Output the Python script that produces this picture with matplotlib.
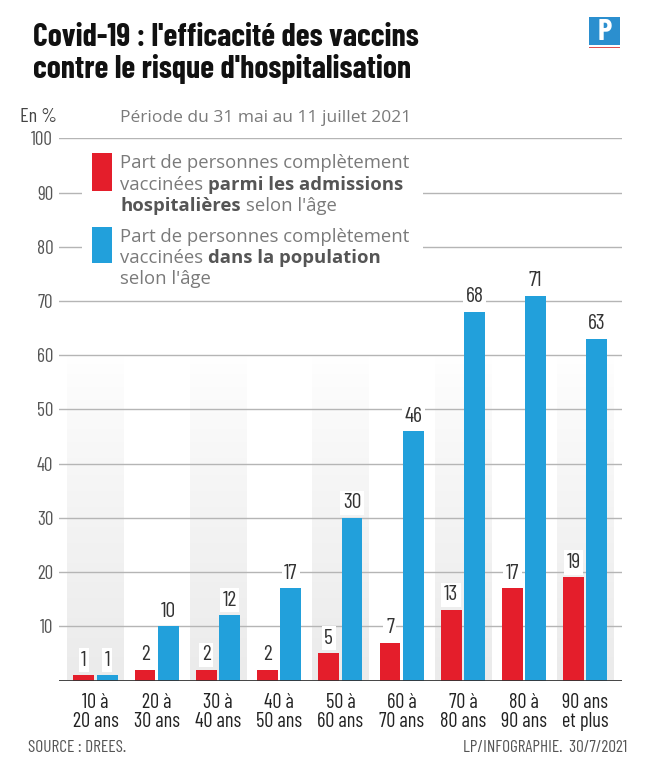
import os
import numpy as np
import matplotlib
matplotlib.use("Agg")
import matplotlib.pyplot as plt
from matplotlib import font_manager
from matplotlib.font_manager import FontProperties
from matplotlib.colors import LinearSegmentedColormap
from matplotlib.patches import Rectangle

# Covid-19 : part des vaccinés, hospitalisations vs population (DREES)
groups = ["10 à\n20 ans", "20 à\n30 ans", "30 à\n40 ans", "40 à\n50 ans", "50 à\n60 ans",
          "60 à\n70 ans", "70 à\n80 ans", "80 à\n90 ans", "90 ans\net plus"]
hospital = [1, 2, 2, 2, 5, 7, 13, 17, 19]
population = [1, 10, 12, 17, 30, 46, 68, 71, 63]
yticks = [10, 20, 30, 40, 50, 60, 70, 80, 90, 100]

red = "#e41e2b"
blue = "#22a0db"

files = {os.path.basename(f.fname): f.fname for f in font_manager.fontManager.ttflist}


def font(*names):
    for n in names:
        if n in files:
            return FontProperties(fname=files[n])
    return FontProperties(family="DejaVu Sans")


nar = font("BarlowCondensed-Regular.ttf", "DejaVuSansCondensed.ttf")
nar_b = font("BarlowCondensed-Bold.ttf", "DejaVuSansCondensed-Bold.ttf")
body = "Open Sans"

W, H = 649, 770
fig = plt.figure(figsize=(W / 100, H / 100), dpi=100)
fig.patch.set_facecolor("white")
rend = fig.canvas.get_renderer()


def px(x, y):
    return x / W, 1 - y / H


def fp(base, size):
    p = base.copy()
    p.set_size(size)
    return p


def size_for(text, prop, target, **kw):
    # font size that gives the reference width
    t = fig.text(0, 0, text, fontproperties=fp(prop, 20), **kw) if prop is not None \
        else fig.text(0, 0, text, fontsize=20, **kw)
    wpx = t.get_window_extent(rend).width
    t.remove()
    return 20 * target / wpx


ax = fig.add_axes([58.75 / W, 1 - 680.5 / H, (622 - 58.75) / W, (680.5 - 138.3) / H])
ax.set_xlim(-0.6, 8.6)
ax.set_ylim(0, 100)
for s in ax.spines.values():
    s.set_visible(False)

# alternating shaded columns with fade
cmap = LinearSegmentedColormap.from_list("fade", ["#ffffff", "#ebebeb"])
grad = np.linspace(0, 1, 100).reshape(-1, 1) ** 0.8
for i in range(0, len(groups), 2):
    ax.imshow(grad, extent=[i - 0.46, i + 0.46, 0, 60], origin="upper", cmap=cmap,
              aspect="auto", zorder=0, vmin=0, vmax=1)

tick_size = size_for("100", nar, 22)
ax.set_yticks(yticks)
ax.set_yticklabels([str(v) for v in yticks], fontproperties=fp(nar, tick_size), color="#555555")
ax.tick_params(axis="y", length=0, pad=4)
ax.set_xticks([])
ax.grid(axis="y", color="#b5b5b5", linewidth=1, zorder=1)
ax.set_axisbelow(True)
ax.axhline(0, color="#333333", linewidth=2, zorder=4)

x = np.arange(len(groups))
w = 0.34
ax.bar(x - 0.19, hospital, width=w, color=red, zorder=3)
ax.bar(x + 0.19, population, width=w, color=blue, zorder=3)

val_size = size_for("68", nar, 18)
for xi, h, p in zip(x, hospital, population):
    for xx, v in ((xi - 0.19, h), (xi + 0.19, p)):
        ax.annotate(str(v), (xx, v), xytext=(0, 4), textcoords="offset points",
                    ha="center", va="bottom", fontproperties=fp(nar, val_size),
                    color="#333333", zorder=5,
                    bbox=dict(boxstyle="square,pad=0.12", fc="white", ec="none"))

lab_size = size_for("90 ans", nar, 46)
for xi, g in zip(x, groups):
    ax.annotate(g, (xi, 0), xytext=(0, -9), textcoords="offset points",
                ha="center", va="top", fontproperties=fp(nar, lab_size),
                color="#222222", linespacing=1.0, annotation_clip=False)

# legend block (white box hides the gridlines)
ax.add_patch(Rectangle(px(82, 150), (423 - 82) / W, (150 - 292) / H, transform=fig.transFigure,
                       facecolor="white", edgecolor="none", zorder=2))
fig.patches.append(Rectangle(px(92, 191), 20 / W, 38 / H, transform=fig.transFigure,
                             facecolor=red, edgecolor="none"))
fig.patches.append(Rectangle(px(92, 263), 20 / W, 36 / H, transform=fig.transFigure,
                             facecolor=blue, edgecolor="none"))

grey = "#7a7a7a"
dark = "#555555"
lsize = size_for("Part de personnes complètement", None, 287, fontfamily=body)

leg_lines = [
    (163, [("Part de personnes complètement", "normal")]),
    (185, [("vaccinées", "normal"), ("parmi les admissions", "bold")]),
    (206, [("hospitalières", "bold"), ("selon l'âge", "normal")]),
    (237, [("Part de personnes complètement", "normal")]),
    (258, [("vaccinées", "normal"), ("dans la population", "bold")]),
    (279, [("selon l'âge", "normal")]),
]
space = lsize * 100 / 72 * 0.27
for y, parts in leg_lines:
    xpos = 120
    for txt, wt in parts:
        col = dark if wt == "bold" else grey
        t = fig.text(*px(xpos, y + 5), txt, fontfamily=body, fontsize=lsize, fontweight=wt,
                     color=col, va="baseline", ha="left")
        xpos += t.get_window_extent(rend).width + space

# title and headers
title_size = size_for("Covid-19 : l'efficacité des vaccins", nar_b, 385)
fig.text(*px(33, 46), "Covid-19 : l'efficacité des vaccins", fontproperties=fp(nar_b, title_size),
         color="#111111", va="baseline", ha="left")
fig.text(*px(33, 78), "contre le risque d'hospitalisation", fontproperties=fp(nar_b, title_size),
         color="#111111", va="baseline", ha="left")
fig.text(*px(20, 122), "En %", fontproperties=fp(nar, tick_size * 1.05), color="#444444",
         va="baseline", ha="left")
psize = size_for("Période du 31 mai au 11 juillet 2021", None, 290, fontfamily=body)
fig.text(*px(120, 122), "Période du 31 mai au 11 juillet 2021", fontfamily=body, fontsize=psize,
         color=grey, va="baseline", ha="left")

# logo
fig.patches.append(Rectangle(px(589, 45), 31 / W, 28 / H, transform=fig.transFigure,
                             facecolor="#2b8fcf", edgecolor="none"))
fig.patches.append(Rectangle(px(589, 48), 31 / W, 1.5 / H, transform=fig.transFigure,
                             facecolor="#e05050", edgecolor="none"))
fig.text(*px(604.5, 32), "P", fontproperties=fp(nar_b, 22), color="white",
         va="center", ha="center")

fig.text(*px(28, 747), "SOURCE : DREES.", fontproperties=fp(nar, size_for("SOURCE : DREES.", nar, 98)),
         color="#555555", va="center", ha="left")
fig.text(*px(627, 747), "LP/INFOGRAPHIE.  30/7/2021",
         fontproperties=fp(nar, size_for("LP/INFOGRAPHIE.  30/7/2021", nar, 164)),
         color="#555555", va="center", ha="right")

fig.savefig("out.png", dpi=100, facecolor="white")
